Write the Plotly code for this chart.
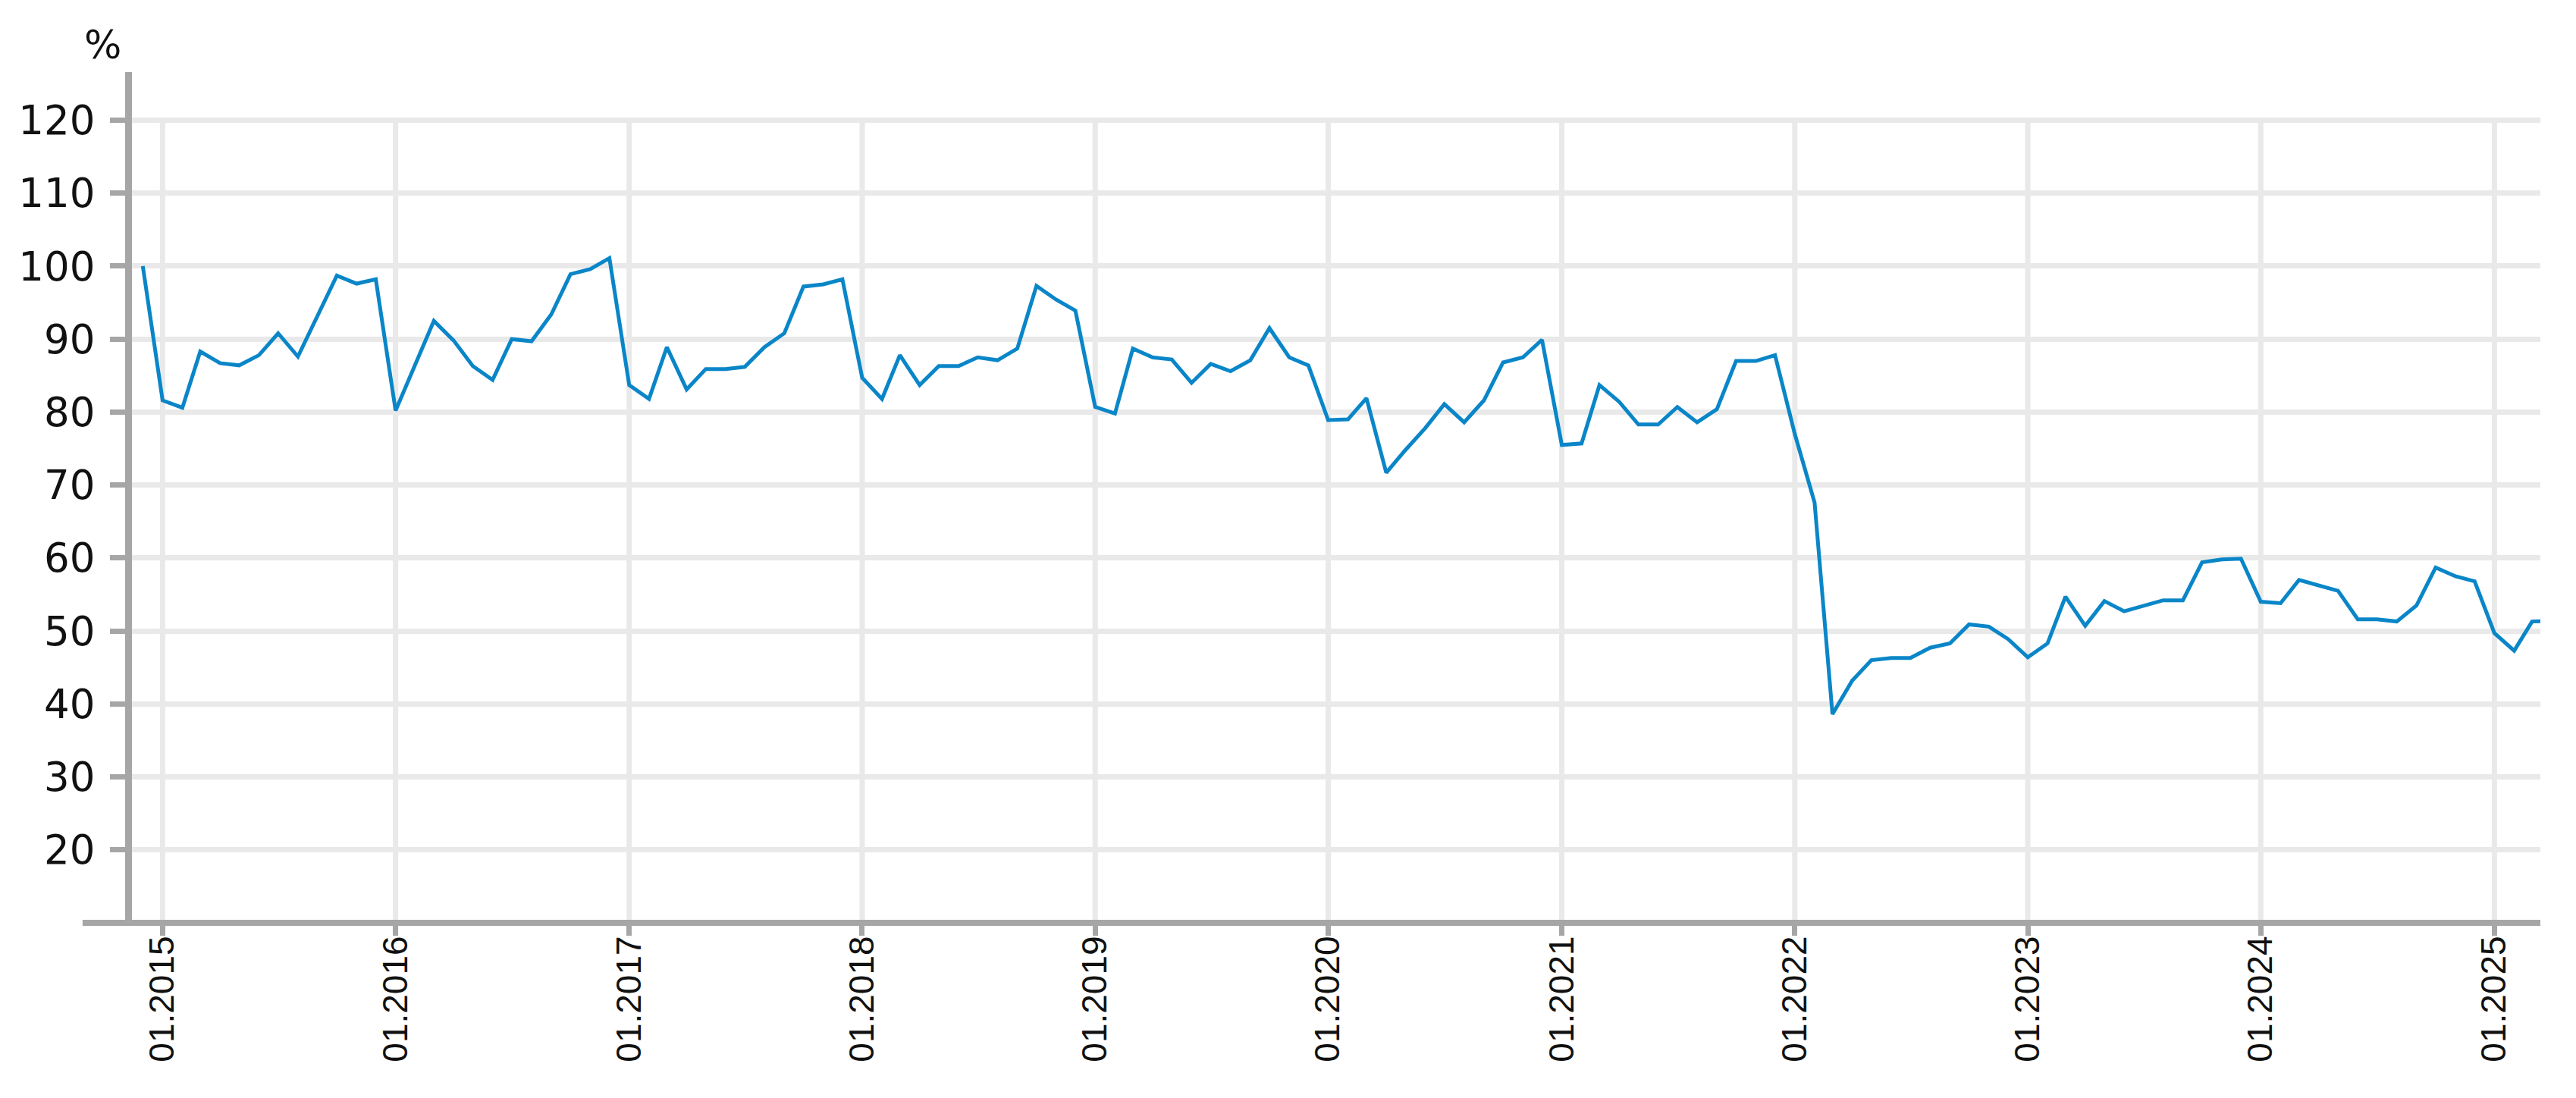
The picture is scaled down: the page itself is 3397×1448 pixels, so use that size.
''' Monthly index, % (Dec 2014 = 100) '''
import plotly.graph_objects as go
import pandas as pd

# Reading values off the chart, one list per year
v2014 = [100.0]
v2015 = [81.6, 80.6, 88.3, 86.7, 86.4, 87.8, 90.8, 87.6, 93.2, 98.7, 97.6, 98.2]
v2016 = [80.2, 86.5, 92.5, 89.8, 86.3, 84.4, 90.0, 89.7, 93.4, 98.9, 99.6, 101.1]
v2017 = [83.7, 81.8, 88.9, 83.1, 85.9, 85.9, 86.2, 88.9, 90.8, 97.2, 97.5, 98.2]
v2018 = [84.7, 81.8, 87.8, 83.7, 86.3, 86.3, 87.5, 87.1, 88.7, 97.3, 95.4, 93.9]
v2019 = [80.7, 79.8, 88.7, 87.5, 87.2, 84.0, 86.6, 85.6, 87.1, 91.5, 87.5, 86.4]
v2020 = [78.9, 79.0, 81.9, 71.7, 74.8, 77.8, 81.1, 78.6, 81.6, 86.8, 87.5, 89.9]
v2021 = [75.5, 75.7, 83.7, 81.4, 78.3, 78.3, 80.7, 78.6, 80.4, 87.0, 87.0, 87.8]
v2022 = [77.0, 67.6, 38.6, 43.2, 46.0, 46.3, 46.3, 47.7, 48.3, 50.9, 50.6, 48.9]
v2023 = [46.4, 48.3, 54.7, 50.7, 54.1, 52.7, 53.5, 54.2, 54.2, 59.4, 59.8, 59.9]
v2024 = [54.0, 53.8, 57.0, 56.3, 55.5, 51.6, 51.6, 51.3, 53.5, 58.7, 57.5, 56.8]
v2025 = [49.7, 47.3, 51.3, 51.4]

values = v2014 + v2015 + v2016 + v2017 + v2018 + v2019 + v2020 + v2021 + v2022 + v2023 + v2024 + v2025
months = pd.date_range('2014-12-01', periods=len(values), freq='MS')

# Axis ticks
year_ticks = ['%d-01-01' % y for y in range(2015, 2026)]
y_ticks = [20, 30, 40, 50, 60, 70, 80, 90, 100, 110, 120]

axis_grey = '#a6a6a6'
grid_grey = '#e9e9e9'
line_blue = '#0a86c8'
text_col = '#111111'

fig = go.Figure()

fig.add_trace(go.Scatter(
    x=months,
    y=values,
    mode='lines',
    line=dict(color=line_blue, width=5),
    showlegend=False
))

# vertical grid lines stop at the 120 line
for t in year_ticks:
    fig.add_shape(type='line', xref='x', yref='y', x0=t, x1=t, y0=10, y1=120,
                  line=dict(color=grid_grey, width=7), layer='below')

# x axis line runs a bit past the y axis on the left
fig.add_shape(type='line', xref='paper', yref='paper', x0=-0.0205, x1=1, y0=0, y1=0,
              line=dict(color=axis_grey, width=8), layer='above')

fig.add_annotation(text='%', xref='paper', yref='paper', x=0, y=1,
                   xshift=-39, yshift=36,
                   xanchor='center', yanchor='middle', showarrow=False,
                   font=dict(family='DejaVu Sans', size=52, color=text_col))

fig.update_layout(
    width=3397,
    height=1448,
    margin=dict(l=166, r=55, t=87, b=239),
    paper_bgcolor='white',
    plot_bgcolor='white',
    xaxis=dict(
        range=['2014-11-14', '2025-03-14'],
        tickvals=year_ticks,
        tickformat='%m.%Y',
        tickangle=-90,
        showgrid=False,
        showline=False,
        zeroline=False,
        ticks='outside',
        ticklen=16,
        tickwidth=7,
        tickcolor=axis_grey,
        ticklabelstandoff=-18,
        tickfont=dict(family='Liberation Sans', size=46, color=text_col)
    ),
    yaxis=dict(
        range=[10, 126.6],
        tickvals=y_ticks,
        showgrid=True,
        gridcolor=grid_grey,
        gridwidth=7,
        zeroline=False,
        showline=True,
        linecolor=axis_grey,
        linewidth=9,
        ticks='outside',
        ticklen=20,
        tickwidth=7,
        tickcolor=axis_grey,
        ticklabelstandoff=9,
        tickfont=dict(family='DejaVu Sans', size=53, color=text_col)
    )
)

fig.write_html("out.html")
